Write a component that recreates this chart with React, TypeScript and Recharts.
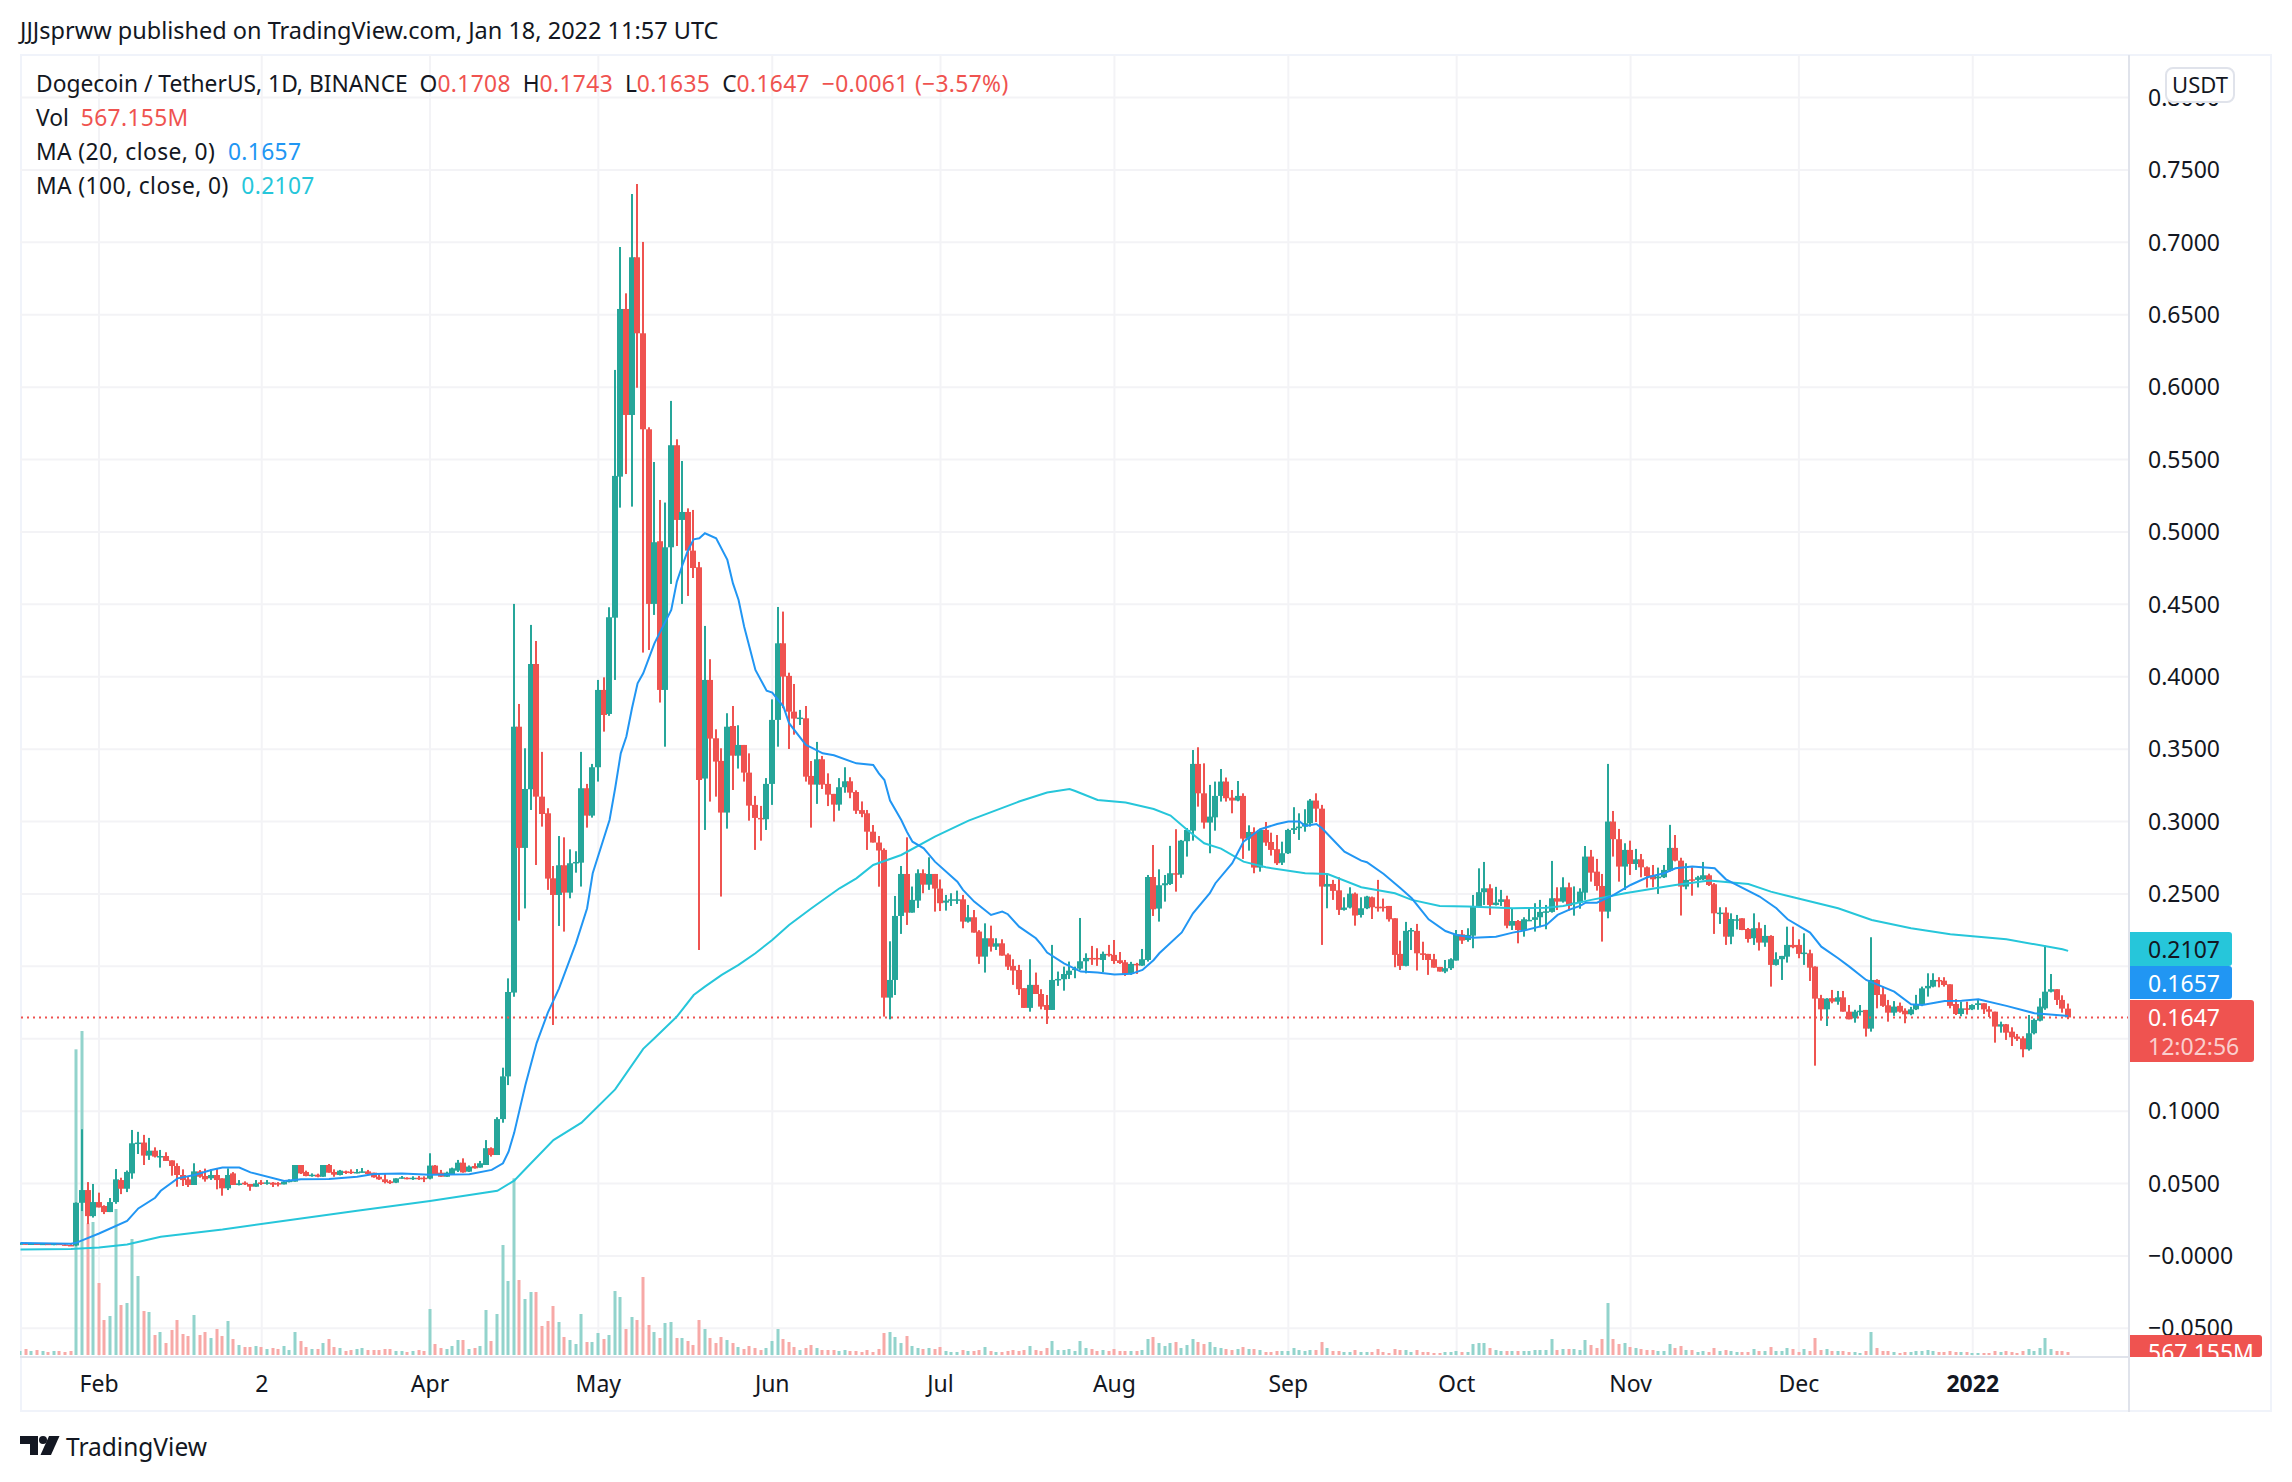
import React from 'react';
import { ComposedChart, Bar, Line, XAxis, YAxis, CartesianGrid, ReferenceLine } from 'recharts';

// Daily DOGE/USDT candles, 18 Jan 2021 (day 0) to 18 Jan 2022 (day 365).
const opens = [
  .0085,.0087,.0083,.0086,.0082,.0085,.0083,.0085,.0080,.0076,
  .0072,.0367,.0455,.0275,.0372,.0345,.0303,.0372,.0524,.0464,
  .0570,.0778,.0783,.0693,.0727,.0686,.0690,.0660,.0621,.0559,
  .0529,.0490,.0584,.0552,.0536,.0559,.0536,.0467,.0570,.0490,
  .0506,.0497,.0478,.0508,.0503,.0506,.0503,.0494,.0513,.0513,
  .0628,.0580,.0554,.0561,.0547,.0628,.0580,.0559,.0584,.0582,
  .0573,.0577,.0584,.0575,.0547,.0529,.0515,.0506,.0536,.0540,
  .0534,.0540,.0540,.0534,.0624,.0575,.0547,.0566,.0589,.0644,
  .0582,.0621,.0610,.0628,.0744,.0697,.0945,.1240,.1819,.3655,
  .2818,.3223,.4088,.3172,.3057,.2608,.2493,.2698,.2509,.2712,
  .2716,.3230,.3041,.3375,.3909,.3743,.4408,.5382,.6540,.5808,
  .6897,.6372,.5709,.4503,.4936,.3909,.4894,.5599,.5083,.5138,
  .4871,.4756,.3297,.3978,.3575,.3419,.3062,.3660,.3455,.3529,
  .3338,.3115,.3025,.3016,.3260,.3702,.4231,.4006,.3759,.3711,
  .3713,.3315,.3255,.3430,.3260,.3191,.3117,.3237,.3278,.3204,
  .3079,.3057,.2930,.2855,.2804,.1784,.1906,.2348,.2638,.2371,
  .2454,.2643,.2564,.2638,.2537,.2440,.2454,.2459,.2463,.2309,
  .2339,.2240,.2067,.2194,.2136,.2159,.2081,.2003,.1975,.1849,
  .1713,.1872,.1809,.1733,.1699,.1906,.1911,.1941,.1975,.1984,
  .2035,.2058,.2058,.2044,.2086,.2079,.2042,.2028,.1948,.2017,
  .2005,.2044,.2617,.2399,.2560,.2569,.2643,.2634,.2864,.2937,
  .3398,.3195,.2993,.3029,.3177,.3276,.3165,.3145,.3177,.2882,
  .2928,.2682,.2942,.2859,.2809,.2716,.2781,.2942,.2954,.2965,
  .2988,.3145,.3089,.2551,.2569,.2525,.2390,.2406,.2502,.2355,
  .2401,.2477,.2412,.2412,.2417,.2332,.2086,.2003,.2245,.2245,
  .2090,.2086,.2049,.1996,.1964,.1987,.2040,.2221,.2182,.2212,
  .2417,.2512,.2539,.2424,.2445,.2463,.2281,.2313,.2251,.2316,
  .2321,.2339,.2371,.2376,.2470,.2447,.2546,.2435,.2440,.2509,
  .2758,.2654,.2555,.2378,.3000,.2878,.2689,.2804,.2707,.2739,
  .2684,.2629,.2608,.2615,.2661,.2818,.2730,.2551,.2601,.2597,
  .2601,.2629,.2567,.2366,.2371,.2205,.2320,.2332,.2258,.2194,
  .2263,.2164,.2210,.2010,.2049,.2067,.2148,.2148,.2090,.2090,
  .1998,.1780,.1703,.1780,.1756,.1786,.1687,.1641,.1687,.1699,
  .1570,.1906,.1807,.1731,.1680,.1727,.1694,.1669,.1703,.1733,
  .1848,.1860,.1906,.1901,.1876,.1740,.1671,.1710,.1703,.1733,
  .1745,.1703,.1687,.1584,.1600,.1549,.1515,.1503,.1427,.1538,
  .1625,.1710,.1825,.1842,.1768,.1708,
];
const highs = [
  .0092,.0092,.0090,.0088,.0089,.0088,.0086,.0087,.0084,.0082,
  .0370,.0875,.0510,.0497,.0437,.0350,.0400,.0600,.0540,.0590,
  .0870,.0857,.0836,.0815,.0750,.0732,.0716,.0660,.0640,.0598,
  .0547,.0640,.0593,.0603,.0598,.0605,.0536,.0605,.0579,.0524,
  .0515,.0497,.0524,.0524,.0524,.0510,.0510,.0524,.0529,.0628,
  .0628,.0589,.0570,.0568,.0628,.0635,.0598,.0594,.0589,.0598,
  .0600,.0607,.0594,.0575,.0566,.0566,.0524,.0536,.0552,.0543,
  .0550,.0552,.0550,.0709,.0628,.0594,.0582,.0610,.0663,.0674,
  .0625,.0640,.0656,.0800,.0750,.0958,.1300,.1917,.4503,.3812,
  .3506,.4358,.4247,.3481,.3092,.2693,.2900,.2891,.2808,.2795,
  .3481,.3260,.3398,.3978,.3996,.4480,.6119,.6968,.6648,.7334,
  .7403,.7003,.5723,.5483,.5221,.5203,.5905,.5640,.5490,.5163,
  .5152,.4793,.4351,.4121,.3637,.3506,.3748,.3798,.3665,.3529,
  .3471,.3177,.3108,.3300,.3844,.4482,.4450,.4028,.3950,.3771,
  .3798,.3418,.3550,.3453,.3333,.3191,.3300,.3375,.3306,.3216,
  .3139,.3080,.2976,.2900,.2815,.2173,.2486,.2693,.2891,.2551,
  .2670,.2670,.2753,.2638,.2600,.2493,.2505,.2523,.2493,.2424,
  .2389,.2250,.2297,.2281,.2194,.2187,.2090,.2049,.2010,.1849,
  .2049,.1957,.1842,.1802,.2148,.1964,.1998,.2033,.1998,.2334,
  .2090,.2141,.2125,.2102,.2148,.2182,.2099,.2044,.2031,.2024,
  .2120,.2631,.2838,.2670,.2631,.2832,.2947,.2873,.2955,.3494,
  .3513,.3402,.3253,.3276,.3363,.3304,.3218,.3280,.3195,.2974,
  .2960,.2950,.2997,.2923,.2907,.2861,.2950,.3099,.3057,.3085,
  .3156,.3195,.3115,.2638,.2597,.2615,.2477,.2546,.2510,.2477,
  .2487,.2482,.2597,.2468,.2417,.2332,.2177,.2307,.2265,.2293,
  .2170,.2086,.2086,.1996,.2044,.2056,.2251,.2251,.2263,.2493,
  .2677,.2721,.2567,.2549,.2528,.2488,.2401,.2320,.2339,.2406,
  .2436,.2459,.2424,.2728,.2546,.2615,.2578,.2552,.2539,.2831,
  .2804,.2742,.2638,.3398,.3073,.2949,.2850,.2868,.2811,.2776,
  .2690,.2700,.2682,.2700,.2977,.2907,.2750,.2712,.2684,.2625,
  .2721,.2640,.2575,.2408,.2408,.2366,.2355,.2332,.2265,.2366,
  .2304,.2286,.2215,.2097,.2072,.2274,.2274,.2187,.2228,.2115,
  .2000,.1803,.1780,.1837,.1830,.1830,.1733,.1700,.1733,.1699,
  .2201,.1911,.1860,.1768,.1760,.1750,.1710,.1720,.1803,.1860,
  .1952,.1952,.1925,.1925,.1876,.1773,.1756,.1756,.1738,.1773,
  .1745,.1725,.1687,.1618,.1602,.1579,.1533,.1517,.1664,.1640,
  .1780,.2143,.1947,.1842,.1800,.1743,
];
const lows = [
  .0080,.0080,.0078,.0078,.0076,.0076,.0074,.0076,.0072,.0070,
  .0067,.0310,.0220,.0265,.0335,.0289,.0303,.0360,.0427,.0441,
  .0533,.0704,.0628,.0663,.0680,.0610,.0656,.0554,.0478,.0483,
  .0476,.0490,.0540,.0513,.0525,.0460,.0416,.0455,.0490,.0487,
  .0490,.0450,.0478,.0490,.0492,.0476,.0480,.0494,.0508,.0513,
  .0566,.0550,.0547,.0543,.0547,.0575,.0547,.0556,.0566,.0566,
  .0570,.0575,.0561,.0540,.0525,.0501,.0497,.0503,.0534,.0529,
  .0525,.0525,.0510,.0529,.0566,.0547,.0547,.0559,.0580,.0575,
  .0580,.0603,.0610,.0628,.0686,.0697,.0920,.1180,.1790,.2316,
  .2400,.3080,.2700,.2965,.2528,.1595,.2279,.2240,.2470,.2647,
  .2551,.2958,.3027,.3276,.3621,.3730,.3978,.5168,.5400,.5175,
  .5996,.4167,.4185,.4427,.3822,.3517,.4641,.4903,.4503,.4558,
  .4682,.2113,.2942,.3138,.3172,.2482,.2951,.3218,.3366,.3276,
  .3006,.2804,.2868,.2942,.3115,.3517,.3783,.3501,.3600,.3667,
  .3276,.2958,.3122,.3225,.3107,.3000,.3075,.3199,.3161,.3053,
  .3030,.2804,.2855,.2550,.1653,.1634,.1802,.2224,.2286,.2371,
  .2403,.2505,.2528,.2378,.2382,.2385,.2417,.2431,.2263,.2302,
  .2233,.2017,.1957,.2102,.2113,.2074,.1975,.1872,.1802,.1713,
  .1687,.1809,.1703,.1602,.1699,.1865,.1832,.1913,.1918,.1975,
  .1952,.2010,.2003,.1961,.2067,.2017,.2017,.1934,.1941,.1948,
  .2003,.2033,.2348,.2309,.2447,.2562,.2516,.2611,.2758,.2868,
  .3103,.2951,.2781,.2937,.3138,.3138,.3057,.3140,.2742,.2799,
  .2643,.2654,.2832,.2765,.2700,.2700,.2776,.2914,.2873,.2930,
  .2965,.2997,.2148,.2401,.2459,.2355,.2385,.2400,.2281,.2337,
  .2395,.2327,.2378,.2378,.2309,.1994,.1975,.2000,.2113,.1971,
  .2044,.1941,.1991,.1964,.1953,.1975,.2040,.2155,.2170,.2125,
  .2412,.2424,.2355,.2420,.2417,.2263,.2251,.2159,.2205,.2316,
  .2240,.2270,.2256,.2371,.2389,.2440,.2385,.2350,.2398,.2459,
  .2585,.2523,.2171,.2332,.2758,.2585,.2528,.2631,.2666,.2615,
  .2544,.2546,.2500,.2610,.2655,.2725,.2351,.2532,.2488,.2545,
  .2595,.2555,.2224,.2293,.2148,.2153,.2255,.2250,.2164,.2148,
  .2109,.2135,.1860,.2005,.1906,.2026,.2125,.2056,.2010,.1899,
  .1314,.1625,.1588,.1745,.1735,.1687,.1634,.1611,.1660,.1515,
  .1549,.1710,.1720,.1618,.1658,.1680,.1607,.1662,.1698,.1725,
  .1791,.1855,.1855,.1860,.1710,.1664,.1655,.1667,.1698,.1700,
  .1671,.1650,.1473,.1542,.1492,.1450,.1485,.1372,.1418,.1530,
  .1620,.1700,.1820,.1733,.1680,.1635,
];
const closes = [
  .0087,.0083,.0086,.0082,.0085,.0083,.0085,.0080,.0076,.0072,
  .0367,.0455,.0275,.0372,.0335,.0303,.0372,.0529,.0464,.0580,
  .0778,.0783,.0693,.0727,.0686,.0690,.0656,.0621,.0559,.0524,
  .0490,.0584,.0547,.0529,.0559,.0524,.0467,.0559,.0490,.0501,
  .0494,.0478,.0501,.0497,.0508,.0492,.0497,.0513,.0520,.0628,
  .0570,.0552,.0561,.0547,.0628,.0575,.0561,.0589,.0573,.0573,
  .0580,.0584,.0566,.0543,.0529,.0510,.0503,.0536,.0543,.0534,
  .0540,.0534,.0533,.0624,.0566,.0547,.0575,.0605,.0644,.0577,
  .0617,.0605,.0640,.0744,.0697,.0945,.1240,.1823,.3655,.2818,
  .3225,.4088,.3172,.3052,.2606,.2493,.2698,.2509,.2712,.2721,
  .3230,.3041,.3375,.3909,.3736,.4411,.5387,.6540,.5808,.6897,
  .6372,.5709,.4503,.4929,.3909,.4894,.5599,.5083,.5138,.4871,
  .4751,.3287,.3978,.3573,.3414,.3062,.3655,.3455,.3529,.3338,
  .3110,.3025,.3016,.3260,.3702,.4231,.4001,.3759,.3711,.3718,
  .3310,.3255,.3430,.3255,.3186,.3117,.3237,.3278,.3200,.3075,
  .3053,.2930,.2855,.2800,.1784,.1906,.2348,.2638,.2371,.2459,
  .2643,.2564,.2638,.2537,.2436,.2454,.2463,.2463,.2309,.2339,
  .2233,.2067,.2194,.2136,.2159,.2074,.1998,.1971,.1842,.1713,
  .1872,.1809,.1722,.1699,.1906,.1913,.1947,.1970,.1984,.2035,
  .2058,.2049,.2049,.2086,.2076,.2037,.2023,.1948,.2017,.2010,
  .2049,.2617,.2394,.2560,.2574,.2643,.2634,.2868,.2942,.3398,
  .3195,.2993,.3034,.3177,.3276,.3161,.3145,.3177,.2882,.2928,
  .2682,.2942,.2855,.2804,.2712,.2781,.2942,.2954,.2965,.2988,
  .3145,.3089,.2551,.2569,.2521,.2390,.2406,.2502,.2351,.2401,
  .2482,.2408,.2401,.2403,.2325,.2079,.2003,.2245,.2251,.2090,
  .2079,.2044,.1991,.1964,.1987,.2049,.2221,.2178,.2217,.2417,
  .2512,.2539,.2424,.2440,.2463,.2281,.2313,.2251,.2325,.2321,
  .2339,.2376,.2380,.2470,.2447,.2546,.2417,.2440,.2516,.2758,
  .2647,.2555,.2378,.3000,.2878,.2689,.2804,.2707,.2739,.2684,
  .2624,.2601,.2620,.2666,.2818,.2730,.2551,.2597,.2594,.2615,
  .2629,.2562,.2366,.2371,.2205,.2327,.2325,.2251,.2189,.2263,
  .2164,.2210,.2010,.2049,.2072,.2148,.2132,.2086,.2095,.1991,
  .1777,.1703,.1777,.1756,.1786,.1687,.1634,.1687,.1694,.1570,
  .1906,.1802,.1727,.1680,.1722,.1687,.1669,.1703,.1733,.1848,
  .1865,.1906,.1901,.1871,.1727,.1671,.1710,.1706,.1733,.1745,
  .1703,.1687,.1584,.1600,.1542,.1510,.1499,.1427,.1538,.1630,
  .1722,.1825,.1842,.1768,.1708,.1647,
];
// Volume, measured relative to the tallest bars (1 unit is about 57M DOGE).
const volumes = [
  12,18,12,15,12,9,12,12,9,12,
  917,972,395,399,216,105,117,438,150,156,
  348,237,132,129,60,69,36,75,105,63,
  57,120,60,69,51,78,57,102,48,30,
  24,24,27,24,18,21,18,27,15,69,
  42,24,18,18,36,48,24,21,12,15,
  18,21,15,15,15,18,18,12,12,9,
  12,15,12,138,33,21,18,27,45,45,
  18,21,27,135,42,123,330,222,530,225,
  168,189,189,87,102,147,99,54,45,33,
  123,39,39,66,48,60,192,174,78,114,
  105,234,90,69,51,96,99,51,51,42,
  30,105,78,51,36,54,45,36,24,18,
  27,21,15,21,42,78,48,39,24,15,
  21,30,21,15,15,15,12,15,12,12,
  9,15,9,18,66,69,54,36,57,27,
  21,18,21,18,24,12,9,9,15,12,
  12,15,24,12,9,9,12,15,12,15,
  27,15,12,21,42,15,15,18,12,42,
  21,18,12,15,12,18,12,12,12,12,
  15,48,54,36,27,36,39,21,30,48,
  39,33,39,24,21,18,15,18,24,18,
  18,15,9,9,12,12,12,21,15,12,
  15,15,39,21,12,12,9,9,15,9,
  9,9,18,9,6,18,15,15,9,15,
  9,9,6,6,9,9,12,9,9,33,
  36,36,21,15,12,12,12,12,12,12,
  15,15,15,48,15,18,18,18,15,45,
  30,21,48,156,48,33,36,24,21,18,
  15,15,12,12,33,21,27,15,15,9,
  12,9,21,12,15,12,9,9,9,18,
  12,12,24,12,12,21,18,9,18,12,
  51,15,18,12,12,12,9,9,6,12,
  69,21,12,12,9,6,9,9,12,12,
  15,12,9,9,12,9,9,9,6,6,
  6,6,12,9,12,9,6,12,18,12,
  21,51,18,12,12,9,
];

const ma20Days = [0,9,10,14,19,21,24,25,28,31,34,36,39,41,47,50,55,60,63,68,73,80,84,86,87,88,90,92,94,96,99,101,102,105,106,107,108,109,110,111,112,113,116,117,118,119,120,121,122,124,126,127,128,129,130,131,133,134,136,137,140,141,143,145,149,152,153,154,155,157,158,159,161,163,167,168,170,173,175,176,178,181,182,183,186,189,192,195,198,200,202,203,207,209,212,213,216,218,221,224,226,228,229,231,232,234,236,239,240,243,246,248,251,254,256,259,263,266,268,272,274,276,278,279,281,284,287,290,293,295,298,302,304,310,313,315,319,321,324,326,329,334,337,339,343,346,349,354,359,364,365];
const ma20Values = [.009,.0085,.0092,.0155,.0242,.0328,.0402,.045,.0536,.0559,.0594,.061,.061,.0577,.0517,.0529,.0531,.0547,.0566,.057,.0561,.0564,.0594,.064,.072,.085,.118,.147,.168,.1848,.2159,.2401,.2643,.3011,.323,.3471,.3587,.3782,.3955,.4024,.4127,.4231,.4461,.4657,.4772,.4876,.4949,.4956,.4991,.4956,.4807,.4645,.453,.4346,.4196,.4047,.3904,.389,.3794,.3679,.3529,.3511,.3471,.3458,.3402,.3391,.3333,.3287,.3145,.3011,.293,.2861,.2815,.2723,.2585,.2528,.2447,.2355,.2378,.236,.2274,.2194,.2148,.2095,.2021,.1964,.1957,.1943,.1948,.1975,.2044,.209,.2234,.2366,.2505,.2574,.2712,.2861,.2947,.2983,.3,.3,.297,.2983,.2954,.2873,.2792,.273,.2719,.2638,.2539,.247,.2325,.2244,.2217,.2198,.2205,.2233,.2247,.2286,.2355,.239,.2418,.244,.244,.2493,.2562,.2615,.2643,.2677,.2689,.2677,.2601,.2482,.2401,.2325,.2233,.2136,.2056,.1998,.1906,.1825,.1738,.1733,.1761,.1763,.1773,.1727,.1676,.166,.1657];
const ma100Days = [0,9,14,19,25,36,50,60,73,85,88,90,95,100,106,111,113,117,120,122,125,128,131,134,137,141,146,149,152,157,163,169,178,183,187,188,192,197,202,205,208,211,214,218,222,229,233,239,245,248,253,258,266,272,275,280,286,295,301,308,312,316,324,330,337,344,354,364,365];
const ma100Values = [.0044,.0048,.0058,.0079,.0132,.0182,.0259,.0312,.0379,.045,.052,.06,.08,.092,.115,.143,.1503,.1653,.1802,.186,.1941,.201,.209,.2182,.2286,.2401,.2539,.2608,.27,.2769,.2896,.3006,.3138,.32,.3225,.3211,.3149,.3131,.3087,.3041,.2942,.285,.2813,.2723,.2684,.2643,.2638,.2546,.2505,.2459,.2417,.2413,.2401,.2405,.2417,.2459,.2505,.2562,.2592,.2569,.2516,.2477,.2401,.232,.2263,.2221,.2187,.2118,.2107];

const monthDays = [14, 43, 73, 103, 134, 164, 195, 226, 256, 287, 317, 348];
const monthLabels = ['Feb', '2', 'Apr', 'May', 'Jun', 'Jul', 'Aug', 'Sep', 'Oct', 'Nov', 'Dec', '2022'];
const priceTicks = [-0.05, 0, 0.05, 0.1, 0.15, 0.2, 0.25, 0.3, 0.35, 0.4, 0.45, 0.5, 0.55, 0.6, 0.65, 0.7, 0.75, 0.8];
const lastPrice = 0.1647;

const UP = '#26a69a';
const DOWN = '#ef5350';
const FONT = '"Noto Sans", sans-serif';
const INK = '#131722';

const rows = opens.map((o, i) => ({
  day: i,
  open: o,
  close: closes[i],
  range: [lows[i], highs[i]],
  volume: volumes[i],
  ma20: null as number | null,
  ma100: null as number | null,
}));
ma20Days.forEach((d, k) => { rows[d].ma20 = ma20Values[k]; });
ma100Days.forEach((d, k) => { rows[d].ma100 = ma100Values[k]; });

const Candle = (props: any) => {
  const { x, y, width, height, payload } = props;
  const [lo, hi] = payload.range;
  const scale = hi > lo ? height / (hi - lo) : 0;
  const up = payload.close >= payload.open;
  const color = up ? UP : DOWN;
  const top = y + (hi - Math.max(payload.open, payload.close)) * scale;
  const bottom = y + (hi - Math.min(payload.open, payload.close)) * scale;
  const cx = Math.round(x + width / 2);
  return (
    <g>
      <rect x={cx - 1} y={y} width={2} height={Math.max(height, 1)} fill={color} />
      <rect x={cx - 3} y={top} width={6} height={Math.max(bottom - top, 1.5)} fill={color} />
    </g>
  );
};

const VolumeBar = (props: any) => {
  const { x, y, width, height, payload } = props;
  const cx = Math.round(x + width / 2);
  const up = payload.close >= payload.open;
  return <rect x={cx - 1.5} y={y} width={3} height={height} fill={up ? '#92d3cc' : '#f7a9a7'} />;
};

const TimeTick = (props: any) => {
  const { x, y, payload } = props;
  const k = monthDays.indexOf(payload.value);
  return (
    <text x={x} y={y + 27} textAnchor="middle" fontFamily={FONT} fontSize={23} fontWeight={monthLabels[k] === '2022' ? 700 : 400} fill={INK}>
      {monthLabels[k]}
    </text>
  );
};

const abs = (left: number, top: number, extra: React.CSSProperties = {}): React.CSSProperties => ({
  position: 'absolute', left, top, whiteSpace: 'pre', fontFamily: FONT, color: INK, fontSize: 22.8, lineHeight: '28px', ...extra,
});

const PriceBox = ({ top, h, w, bg, color, text, sub }: any) => (
  <div style={{ position: 'absolute', left: 2130, top, width: w, height: h, background: bg, borderRadius: '0 3px 3px 0', overflow: 'hidden' }}>
    <div style={abs(18, sub ? 3 : 3, { color, fontSize: 23 })}>{text}</div>
    {sub ? <div style={abs(18, 32, { color: 'rgba(255,255,255,0.72)', fontSize: 23 })}>{sub}</div> : null}
  </div>
);

const Value = ({ color, children }: any) => <span style={{ color, letterSpacing: 0.35 }}>{children}</span>;
const Wide = ({ children }: any) => <span style={{ letterSpacing: 0.4 }}>{children}</span>;

export default function App() {
  return (
    <div style={{ position: 'absolute', left: 0, top: 0, width: 2292, height: 1482, background: '#fff', overflow: 'hidden' }}>
      <div style={abs(20, 16, { fontSize: 23.5 })}>JJJsprww published on TradingView.com, Jan 18, 2022 11:57 UTC</div>

      <div style={{ position: 'absolute', left: 20, top: 54, width: 2252, height: 1358, boxSizing: 'border-box', border: '2px solid #f0f3fa' }} />

      <div style={{ position: 'absolute', left: 0, top: 0 }}>
        <ComposedChart
          width={2292}
          height={1482}
          data={rows}
          margin={{ left: 20, right: 20, top: 55, bottom: 70 }}
        >
          <CartesianGrid stroke="#f3f3f6" strokeWidth={2} xAxisId="time" yAxisId="price" verticalValues={monthDays} horizontalValues={priceTicks} />
          <XAxis
            xAxisId="time"
            dataKey="day"
            type="number"
            scale="linear"
            domain={[-0.09, 375.85]}
            allowDataOverflow
            ticks={monthDays}
            interval={0}
            height={55}
            tick={<TimeTick />}
            tickLine={false}
            axisLine={{ stroke: '#e0e3eb', strokeWidth: 2 }}
          />
          <XAxis xAxisId="vol" dataKey="day" type="number" scale="linear" domain={[-0.09, 375.85]} allowDataOverflow hide />
          <YAxis
            yAxisId="price"
            orientation="right"
            type="number"
            width={143}
            domain={[-0.0698, 0.8294]}
            allowDataOverflow
            ticks={priceTicks}
            interval={0}
            tickFormatter={(v: number) => (v <= 0 ? '\u2212' + Math.abs(v).toFixed(4) : v.toFixed(4))}
            tick={{ fontFamily: FONT, fontSize: 23, fill: INK }}
            tickSize={0}
            tickMargin={19}
            axisLine={{ stroke: '#e0e3eb', strokeWidth: 2 }}
            tickLine={false}
          />
          <YAxis yAxisId="volume" hide type="number" domain={[-6, 3900]} allowDataOverflow />
          <Bar xAxisId="vol" yAxisId="volume" dataKey="volume" barSize={3} shape={<VolumeBar />} isAnimationActive={false} />
          <ReferenceLine xAxisId="time" yAxisId="price" y={lastPrice} stroke={DOWN} strokeWidth={2} strokeDasharray="2 4" />
          <Bar xAxisId="time" yAxisId="price" dataKey="range" barSize={5} shape={<Candle />} isAnimationActive={false} />
          <Line xAxisId="time" yAxisId="price" dataKey="ma100" stroke="#26c6da" strokeWidth={2} dot={false} connectNulls isAnimationActive={false} />
          <Line xAxisId="time" yAxisId="price" dataKey="ma20" stroke="#2196f3" strokeWidth={2} dot={false} connectNulls isAnimationActive={false} />
        </ComposedChart>
      </div>

      <div style={{ position: 'absolute', left: 2128, top: 1357, width: 2, height: 55, background: '#e0e3eb' }} />

      <div style={abs(36, 70)}>
        Dogecoin / TetherUS, 1D, BINANCE{'  '}O<Value color={DOWN}>0.1708</Value>{'  '}H<Value color={DOWN}>0.1743</Value>{'  '}L<Value color={DOWN}>0.1635</Value>{'  '}C<Value color={DOWN}>0.1647</Value>{'  '}<Value color={DOWN}>{'\u22120.0061 (\u22123.57%)'}</Value>
      </div>
      <div style={abs(36, 104)}>Vol  <Value color={DOWN}>567.155M</Value></div>
      <div style={abs(36, 138)}><Wide>MA (20, close, 0)  </Wide><Value color="#2196f3">0.1657</Value></div>
      <div style={abs(36, 172)}><Wide>MA (100, close, 0)  </Wide><Value color="#26c6da">0.2107</Value></div>

      <div style={{ position: 'absolute', left: 2165, top: 67, width: 70, height: 36, boxSizing: 'border-box', border: '2px solid #e0e3eb', borderRadius: 8, background: '#fff', textAlign: 'center', fontFamily: FONT, fontSize: 22, lineHeight: '30px', color: INK }}>USDT</div>

      <PriceBox top={932} h={34} w={102} bg="#26c6da" color={INK} text="0.2107" />
      <PriceBox top={966} h={33} w={102} bg="#2196f3" color="#fff" text="0.1657" />
      <PriceBox top={1000} h={62} w={124} bg={DOWN} color="#fff" text="0.1647" sub="12:02:56" />
      <PriceBox top={1335} h={22} w={132} bg={DOWN} color="#fff" text="567.155M" />

      <svg style={{ position: 'absolute', left: 20, top: 1436 }} width={40} height={20} viewBox="0 0 40 20">
        <path d="M0 0H18V19H10V8H0Z" fill={INK} />
        <circle cx={23} cy={4} r={4} fill={INK} />
        <path d="M29 0H39.5L31 19H20.5Z" fill={INK} />
      </svg>
      <div style={abs(66, 1431, { fontSize: 24.5, lineHeight: '32px' })}>TradingView</div>
    </div>
  );
}
